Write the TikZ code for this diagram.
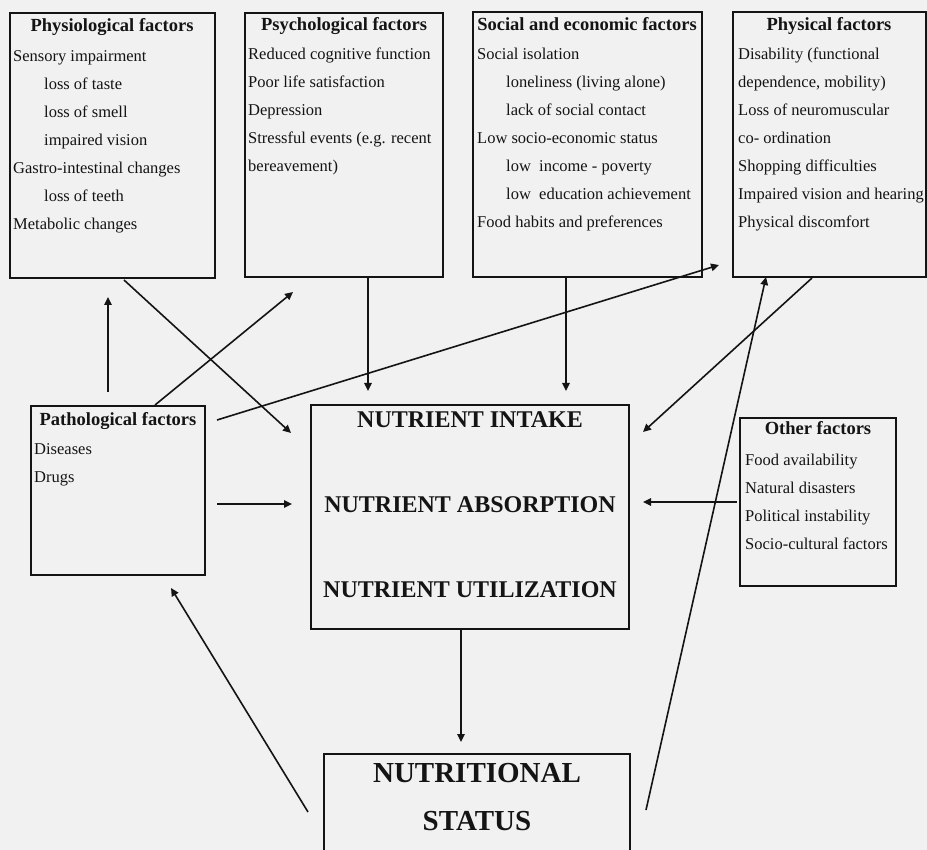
\documentclass[tikz,border=0pt]{standalone}
\usepackage{fontspec}
\setmainfont{Liberation Serif}
\usetikzlibrary{arrows.meta}
\definecolor{bg}{HTML}{F1F1F1}
\definecolor{ink}{HTML}{141414}
\begin{document}
\begin{tikzpicture}[x=1pt,y=-1pt,
  box/.style={draw=ink, line width=1.6pt, rectangle, inner sep=0pt},
  txt/.style={anchor=base west, inner sep=0pt, text=ink, font=\fontsize{16.5}{20}\selectfont},
  ttl/.style={anchor=base, inner sep=0pt, text=ink, font=\bfseries\fontsize{18.5}{22}\selectfont},
  big/.style={anchor=base, inner sep=0pt, text=ink, font=\bfseries\fontsize{24}{28}\selectfont},
  huge/.style={anchor=base, inner sep=0pt, text=ink, font=\bfseries\fontsize{29}{34}\selectfont},
  arr/.style={draw=ink, line width=1.6pt, -{Triangle[length=8pt,width=7.5pt]}}]
\useasboundingbox (0,0) rectangle (927,850);
\fill[bg] (0,0) rectangle (927,850);
\begin{scope}
\clip (0,0) rectangle (927,850);
% boxes
\node[box, minimum width=205pt, minimum height=265pt] (physio) at (112.5,145.5) {};
\node[box, minimum width=198pt, minimum height=264pt] (psych) at (344,145) {};
\node[box, minimum width=229pt, minimum height=265pt] (social) at (587.5,144.5) {};
\node[box, minimum width=193pt, minimum height=265pt] (physical) at (829.5,144.5) {};
\node[box, minimum width=174pt, minimum height=169pt] (patho) at (118,490.5) {};
\node[box, minimum width=318pt, minimum height=224pt] (nutr) at (470,517) {};
\node[box, minimum width=156pt, minimum height=168pt] (other) at (818,502) {};
\node[box, minimum width=306pt, minimum height=130pt] (status) at (477,819) {};

% Physiological
\node[ttl] (t1) at (112,32) {Physiological factors};
\node[txt] (p1) at (13,62) {Sensory impairment};
\node[txt] (p2) at (44,90) {loss of taste};
\node[txt] (p3) at (44,118) {loss of smell};
\node[txt] (p4) at (44,146) {impaired vision};
\node[txt] (p5) at (13,174) {Gastro-intestinal changes};
\node[txt] (p6) at (44,202) {loss of teeth};
\node[txt] (p7) at (13,230) {Metabolic changes};

% Psychological
\node[ttl] (t2) at (344,31) {Psychological factors};
\node[txt] (q1) at (248,60) {Reduced cognitive function};
\node[txt] (q2) at (248,88) {Poor life satisfaction};
\node[txt] (q3) at (248,116) {Depression};
\node[txt] (q4) at (248,144) {Stressful events (e.g. recent};
\node[txt] (q5) at (248,172) {bereavement)};

% Social
\node[ttl] (t3) at (587,31) {Social and economic factors};
\node[txt] (s1) at (477,60) {Social isolation};
\node[txt] (s2) at (506,88) {loneliness (living alone)};
\node[txt] (s3) at (506,116) {lack of social contact};
\node[txt] (s4) at (477,144) {Low socio-economic status};
\node[txt] (s5) at (506,172) {low\ \ income - poverty};
\node[txt] (s6) at (506,200) {low\ \ education achievement};
\node[txt] (s7) at (477,228) {Food habits and preferences};

% Physical
\node[ttl] (t4) at (829,31) {Physical factors};
\node[txt] (f1) at (738,60) {Disability (functional};
\node[txt] (f2) at (738,88) {dependence, mobility)};
\node[txt] (f3) at (738,116) {Loss of neuromuscular};
\node[txt] (f4) at (738,144) {co- ordination};
\node[txt] (f5) at (738,172) {Shopping difficulties};
\node[txt] (f6) at (738,200) {Impaired vision and hearing};
\node[txt] (f7) at (738,228) {Physical discomfort};

% Pathological
\node[ttl] (t5) at (118,425) {Pathological factors};
\node[txt] (d1) at (34,454) {Diseases};
\node[txt] (d2) at (34,482) {Drugs};

% Other
\node[ttl] (t6) at (818,435) {Other factors};
\node[txt] (o1) at (745,465) {Food availability};
\node[txt] (o2) at (745,493) {Natural disasters};
\node[txt] (o3) at (745,521) {Political instability};
\node[txt] (o4) at (745,549) {Socio-cultural factors};

% Nutrient
\node[big] (n1) at (470,428) {NUTRIENT INTAKE};
\node[big] (n2) at (470,512) {NUTRIENT ABSORPTION};
\node[big] (n3) at (470,597) {NUTRIENT UTILIZATION};

% Status
\node[huge] (ns1) at (477,782) {NUTRITIONAL};
\node[huge] (ns2) at (477,830) {STATUS};

% connector end points
\coordinate (c1s) at (124,280);  \coordinate (c1e) at (291,433);
\coordinate (c2s) at (368,278);  \coordinate (c2e) at (368,391);
\coordinate (c3s) at (566,278);  \coordinate (c3e) at (566,391);
\coordinate (c4s) at (812,278);  \coordinate (c4e) at (643,432);
\coordinate (c5s) at (108,392);  \coordinate (c5e) at (108,297);
\coordinate (c6s) at (155,405);  \coordinate (c6e) at (293,292);
\coordinate (c7s) at (217,420);  \coordinate (c7e) at (719,265);
\coordinate (c8s) at (217,504);  \coordinate (c8e) at (292,504);
\coordinate (c9s) at (737,502);  \coordinate (c9e) at (643,502);
\coordinate (c10s) at (461,630); \coordinate (c10e) at (461,742);
\coordinate (c11s) at (308,812); \coordinate (c11e) at (171,588);
\coordinate (c12s) at (646,810); \coordinate (c12e) at (766,277);

\draw[arr] (c1s) -- (c1e);
\draw[arr] (c2s) -- (c2e);
\draw[arr] (c3s) -- (c3e);
\draw[arr] (c4s) -- (c4e);
\draw[arr] (c5s) -- (c5e);
\draw[arr] (c6s) -- (c6e);
\draw[arr] (c7s) -- (c7e);
\draw[arr] (c8s) -- (c8e);
\draw[arr] (c9s) -- (c9e);
\draw[arr] (c10s) -- (c10e);
\draw[arr] (c11s) -- (c11e);
\draw[arr] (c12s) -- (c12e);
\end{scope}
\end{tikzpicture}
\end{document}
